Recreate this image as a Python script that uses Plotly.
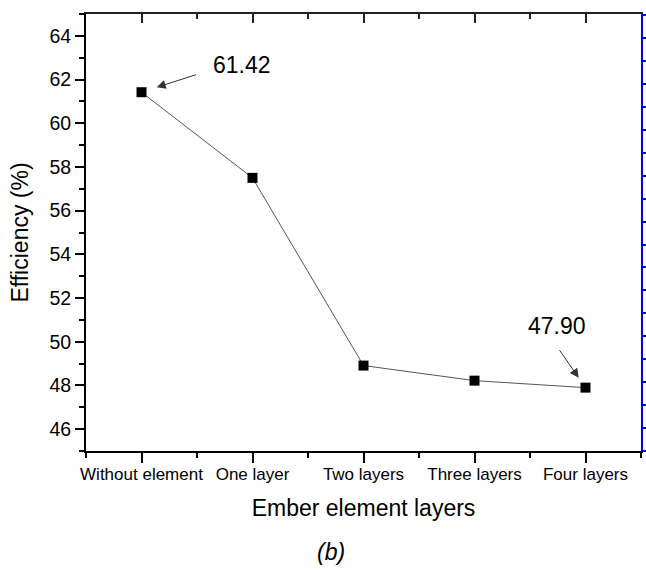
import plotly.graph_objects as go

categories = ["Without element", "One layer", "Two layers", "Three layers", "Four layers"]
efficiency = [61.42, 57.5, 48.91, 48.22, 47.90]
y_ticks = [46, 48, 50, 52, 54, 56, 58, 60, 62, 64]
label_first = "61.42"
label_last = "47.90"

FONT = "Liberation Sans, Arial, sans-serif"
x_idx = list(range(len(categories)))

fig = go.Figure()
fig.add_trace(go.Scatter(
    x=x_idx, y=efficiency, mode="lines+markers",
    line=dict(color="#555555", width=1),
    marker=dict(symbol="square", size=10, color="black", line=dict(width=0)),
    showlegend=False, hoverinfo="skip",
))
# invisible trace to host the top / right mirror axes
fig.add_trace(go.Scatter(x=[0], y=[0], xaxis="x2", yaxis="y2", mode="markers",
                         marker=dict(opacity=0), showlegend=False, hoverinfo="skip"))

fig.update_layout(
    width=646, height=570,
    margin=dict(l=86, r=5, t=14, b=119),
    paper_bgcolor="white", plot_bgcolor="white",
    font=dict(family=FONT, color="black"),
    xaxis=dict(
        range=[-0.5, 4.5], tickvals=x_idx, ticktext=categories,
        showline=True, linecolor="black", linewidth=2,
        ticks="outside", ticklen=10, tickwidth=1.5, tickcolor="black",
        minor=dict(tick0=-0.5, dtick=0.5, ticks="outside", ticklen=5,
                   tickwidth=1.5, tickcolor="black"),
        showgrid=False, zeroline=False, automargin=False,
        tickfont=dict(size=17, family=FONT), ticklabelstandoff=-3,
        title=dict(text="Ember element layers", font=dict(size=23, family=FONT), standoff=16),
    ),
    yaxis=dict(
        range=[45, 65], tickvals=y_ticks,
        showline=True, linecolor="black", linewidth=2,
        ticks="outside", ticklen=9, tickwidth=1.5, tickcolor="black",
        minor=dict(tick0=45, dtick=1, ticks="outside", ticklen=5,
                   tickwidth=1.5, tickcolor="black"),
        showgrid=False, zeroline=False, automargin=False,
        tickfont=dict(size=19.5, family=FONT),
        title=dict(text="Efficiency (%)", font=dict(size=23, family=FONT), standoff=14),
    ),
    xaxis2=dict(
        overlaying="x", side="top", anchor="y", range=[-0.5, 4.5], tickvals=x_idx,
        showline=True, linecolor="#222222", linewidth=2,
        ticks="inside", ticklen=9, tickwidth=1.5, tickcolor="#222222",
        minor=dict(tick0=-0.5, dtick=0.5, ticks="inside", ticklen=5,
                   tickwidth=1.5, tickcolor="#222222"),
        showticklabels=False, showgrid=False, zeroline=False, automargin=False,
    ),
    yaxis2=dict(
        overlaying="y", side="right", anchor="x", range=[0, 19.05], dtick=1, tick0=0,
        tickmode="linear",
        showline=True, linecolor="blue", linewidth=2,
        ticks="outside", ticklen=4, tickwidth=1.5, tickcolor="blue",
        showticklabels=False, showgrid=False, zeroline=False, automargin=False,
    ),
)

# arrows
fig.add_annotation(x=0, y=efficiency[0], text="", showarrow=True,
                   axref="pixel", ayref="pixel", ax=56, ay=-18,
                   arrowhead=2, arrowsize=1.8, arrowwidth=1, arrowcolor="#333333",
                   standoff=16)
fig.add_annotation(x=4, y=efficiency[4], text="", showarrow=True,
                   axref="pixel", ayref="pixel", ax=-27, ay=-39,
                   arrowhead=2, arrowsize=1.8, arrowwidth=1, arrowcolor="#333333",
                   standoff=12)
# value labels
fig.add_annotation(x=0.909, y=62.67, text=label_first, showarrow=False,
                   font=dict(size=23, family=FONT, color="black"))
fig.add_annotation(x=3.744, y=50.70, text=label_last, showarrow=False,
                   font=dict(size=23, family=FONT, color="black"))
# panel label
fig.add_annotation(xref="paper", yref="paper", x=(331 - 86) / 555, y=-(552 - 451) / 437,
                   xanchor="center", yanchor="middle",
                   text="<i>(b)</i>", showarrow=False,
                   font=dict(size=23, family=FONT, color="black"))

fig.write_html("out.html", config={"displayModeBar": False},
               post_script="document.body.style.margin='0';")
